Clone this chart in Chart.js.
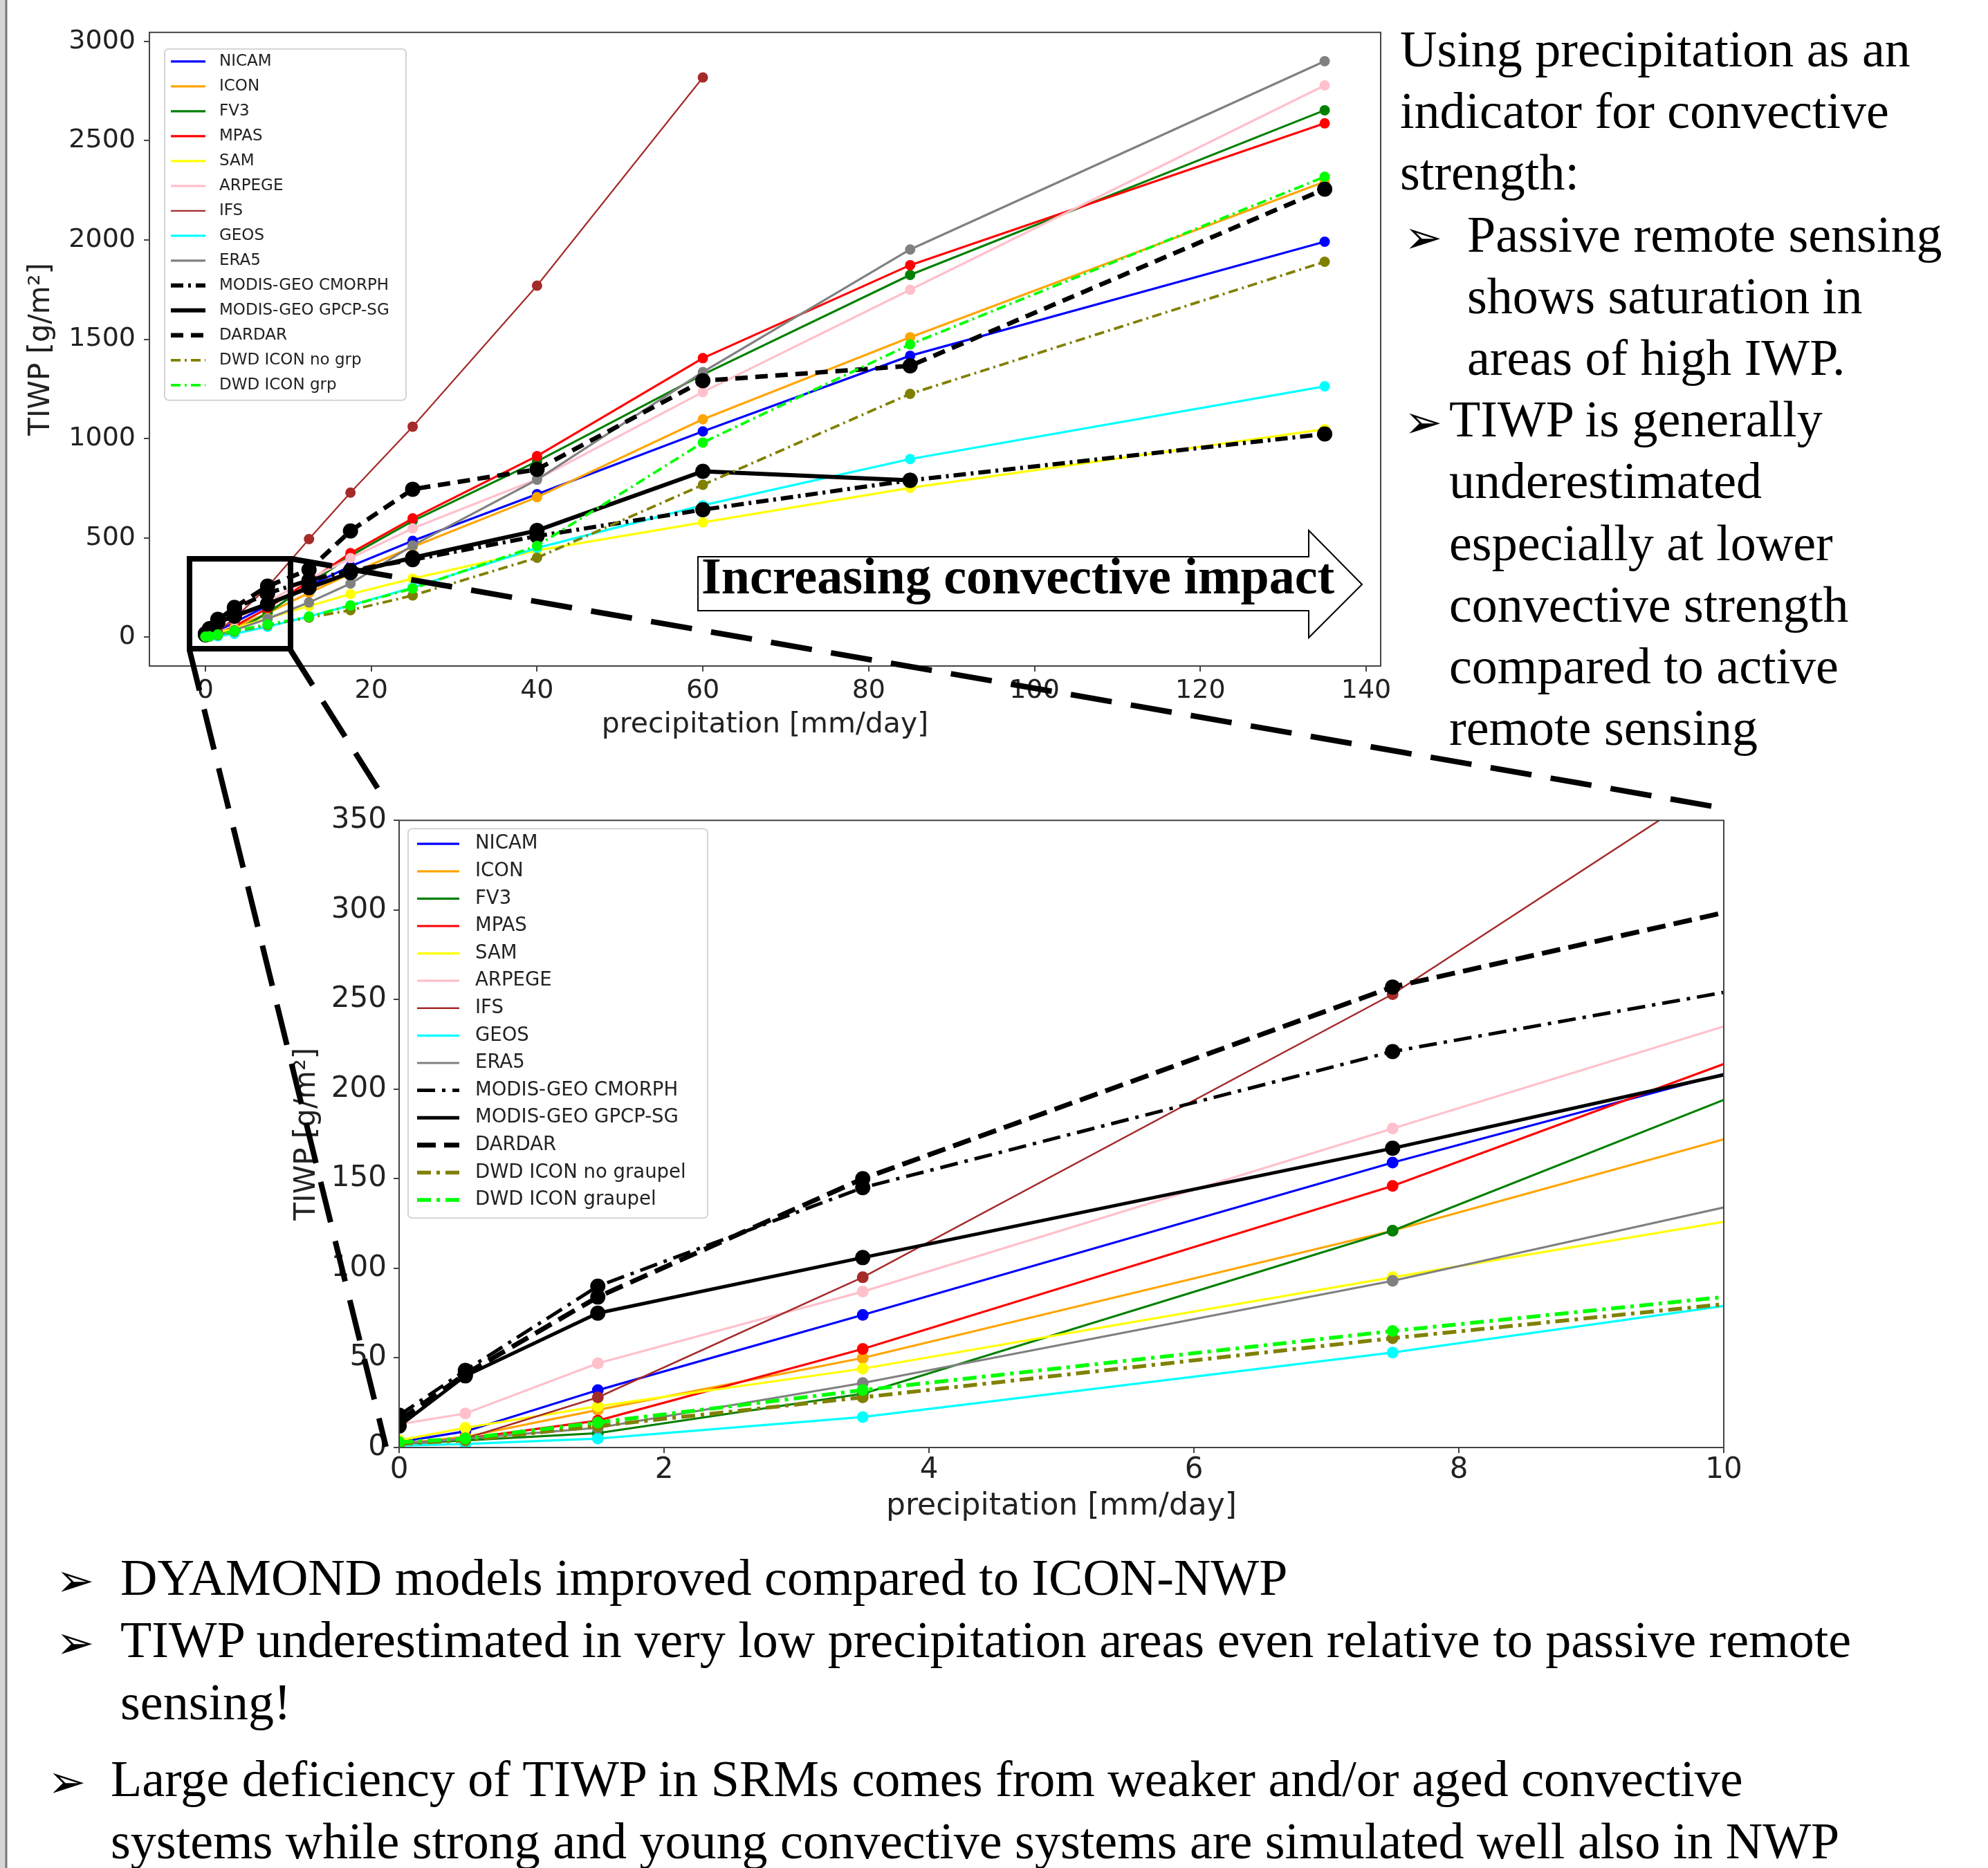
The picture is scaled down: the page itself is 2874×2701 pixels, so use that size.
<!DOCTYPE html>
<html lang="en">
<head>
<meta charset="UTF-8">
<title>TIWP vs precipitation</title>
<script src="https://cdn.jsdelivr.net/npm/chart.js"></script>
<style>
    html, body { margin: 0; padding: 0; background: #fff; }
    body { width: 2874px; height: 2701px; position: relative; overflow: hidden; }
    canvas { position: absolute; }
    #topChart { left: 20px; top: 12px; width: 2016px; height: 1068px; }
    #zoomChart { left: 400px; top: 1151px; width: 2132px; height: 1069px; }
    #overlay { position: absolute; left: 0; top: 0; pointer-events: none; }
    .slide { font-family: "Liberation Serif", "Times New Roman", serif; font-size: 74px; fill: #000; }
    .bul { font-family: "DejaVu Sans", sans-serif; font-size: 66px; fill: #000; }
</style>
</head>
<body>

<canvas id="topChart" width="2016" height="1068"></canvas>
<canvas id="zoomChart" width="2132" height="1069"></canvas>

<svg id="overlay" width="2874" height="2701" xmlns="http://www.w3.org/2000/svg">
    <!-- slide edge -->
    <rect x="0" y="0" width="8" height="2701" fill="#d6d6d6"/>
    <line x1="9" y1="0" x2="9" y2="2701" stroke="#777" stroke-width="3"/>

    <!-- zoom box and connectors -->
    <rect x="274" y="808" width="146" height="130" fill="none" stroke="#000" stroke-width="8"/>
    <g stroke="#000" stroke-width="8" stroke-dasharray="60 28" fill="none">
        <line x1="421" y1="808" x2="2488" y2="1168"/>
        <line x1="420" y1="940" x2="560" y2="1162"/>
        <line x1="274" y1="940" x2="558" y2="2092"/>
    </g>

    <!-- arrow -->
    <polygon points="1009,805 1892,805 1892,767 1969,845 1892,922 1892,883 1009,883"
             fill="#fff" stroke="#000" stroke-width="2"/>
    <text class="slide" x="1014" y="858" font-weight="bold">Increasing convective impact</text>

    <!-- right text -->
    <text class="slide" x="2024" y="96">Using precipitation as an</text>
    <text class="slide" x="2024" y="185">indicator for convective</text>
    <text class="slide" x="2024" y="274">strength:</text>
    <text class="bul" x="2030" y="366">➢</text>
    <text class="slide" x="2121" y="364">Passive remote sensing</text>
    <text class="slide" x="2121" y="453">shows saturation in</text>
    <text class="slide" x="2121" y="542">areas of high IWP.</text>
    <text class="bul" x="2030" y="633">➢</text>
    <text class="slide" x="2095" y="631">TIWP is generally</text>
    <text class="slide" x="2095" y="720">underestimated</text>
    <text class="slide" x="2095" y="810">especially at lower</text>
    <text class="slide" x="2095" y="899">convective strength</text>
    <text class="slide" x="2095" y="988">compared to active</text>
    <text class="slide" x="2095" y="1077">remote sensing</text>

    <!-- bottom text -->
    <text class="bul" x="81" y="2308">➢</text>
    <text class="slide" x="174" y="2306">DYAMOND models improved compared to ICON-NWP</text>
    <text class="bul" x="81" y="2398">➢</text>
    <text class="slide" x="174" y="2396">TIWP underestimated in very low precipitation areas even relative to passive remote</text>
    <text class="slide" x="174" y="2486">sensing!</text>
    <text class="bul" x="69" y="2599">➢</text>
    <text class="slide" x="160" y="2597">Large deficiency of TIWP in SRMs comes from weaker and/or aged convective</text>
    <text class="slide" x="160" y="2687">systems while strong and young convective systems are simulated well also in NWP</text>
</svg>

<script>
    // precipitation bins (mm/day)
    const precipBins = [0, 0.5, 1.5, 3.5, 7.5, 12.5, 17.5, 25, 40, 60, 85, 135];

    // TIWP (g/m2) per bin
    const nicam    = [3, 9, 32, 74, 159, 258, 357, 485, 720, 1036, 1417, 1991];
    const icon     = [2, 6, 21, 50, 121, 223, 320, 455, 705, 1097, 1510, 2293];
    const fv3      = [2, 4, 8, 30, 121, 267, 410, 585, 885, 1322, 1824, 2653];
    const mpas     = [2, 5, 15, 55, 146, 282, 423, 598, 912, 1405, 1873, 2587];
    const sam      = [4, 11, 23, 44, 95, 157, 217, 295, 437, 578, 752, 1047];
    const arpege   = [13, 19, 47, 87, 178, 292, 398, 548, 795, 1234, 1749, 2778];
    const ifs      = [2, 5, 28, 95, 253, 494, 728, 1060, 1770, 2818, null, null];
    const geos     = [1, 2, 5, 17, 53, 105, 160, 250, 449, 664, 897, 1263];
    const era5     = [2, 5, 11, 36, 93, 175, 270, 462, 793, 1335, 1952, 2900];
    const cmorph   = [18, 43, 90, 145, 221, 287, 335, 390, 509, 642, 790, 1023];
    const gpcp     = [12, 40, 75, 106, 167, 249, 325, 400, 537, 835, 790, null];
    const dardar   = [15, 41, 84, 150, 257, 340, 535, 745, 845, 1291, 1366, 2256];
    const dwdNoGrp = [2, 4, 12, 28, 61, 99, 136, 210, 400, 767, 1225, 1890];
    const dwdGrp   = [3, 5, 14, 32, 65, 103, 160, 245, 460, 980, 1474, 2318];

    const seriesValues = [nicam, icon, fv3, mpas, sam, arpege, ifs, geos, era5,
                          cmorph, gpcp, dardar, dwdNoGrp, dwdGrp];
    const seriesNames = ['NICAM', 'ICON', 'FV3', 'MPAS', 'SAM', 'ARPEGE', 'IFS', 'GEOS', 'ERA5',
                         'MODIS-GEO CMORPH', 'MODIS-GEO GPCP-SG', 'DARDAR', 'DWD ICON no grp', 'DWD ICON grp'];
    const zoomNames = ['NICAM', 'ICON', 'FV3', 'MPAS', 'SAM', 'ARPEGE', 'IFS', 'GEOS', 'ERA5',
                       'MODIS-GEO CMORPH', 'MODIS-GEO GPCP-SG', 'DARDAR', 'DWD ICON no graupel', 'DWD ICON graupel'];
    const seriesColors = ['#0000ff', '#ffa500', '#008000', '#ff0000', '#ffff00', '#ffc0cb', '#a52a2a',
                          '#00ffff', '#808080', '#000000', '#000000', '#000000', '#808000', '#00ff00'];
    const seriesKinds = ['model', 'model', 'model', 'model', 'model', 'model', 'ifs', 'model', 'model',
                         'cmorph', 'gpcp', 'dardar', 'dwd', 'dwd'];

    // axis ticks
    const topXTicks = [0, 20, 40, 60, 80, 100, 120, 140];
    const topYTicks = [0, 500, 1000, 1500, 2000, 2500, 3000];
    const zoomXTicks = [0, 2, 4, 6, 8, 10];
    const zoomYTicks = [0, 50, 100, 150, 200, 250, 300, 350];

    const topStyles = {
        model:  { width: 3.2, dash: [],            radius: 7.5 },
        ifs:    { width: 2.2, dash: [],            radius: 7.5 },
        cmorph: { width: 6,   dash: [18, 7, 4, 7], radius: 11 },
        gpcp:   { width: 6,   dash: [],            radius: 11 },
        dardar: { width: 6.5, dash: [18, 11],      radius: 11 },
        dwd:    { width: 3.8, dash: [14, 6, 3, 6], radius: 7.5 }
    };
    const zoomStyles = {
        model:  { width: 3.2, dash: [],              radius: 8.5 },
        ifs:    { width: 2.5, dash: [],              radius: 8.5 },
        cmorph: { width: 5,   dash: [26, 10, 5, 10], radius: 11 },
        gpcp:   { width: 5,   dash: [],              radius: 11 },
        dardar: { width: 7,   dash: [27, 12],        radius: 11 },
        dwd:    { width: 5.5, dash: [20, 8, 5, 8],   radius: 8.5 }
    };

    Chart.defaults.font.family = "'DejaVu Sans', sans-serif";
    Chart.defaults.color = '#222';

    function buildDatasets(styles) {
        const n = seriesNames.length;
        return seriesNames.map(function (name, i) {
            const st = styles[seriesKinds[i]];
            const pts = [];
            precipBins.forEach(function (x, j) {
                const v = seriesValues[i][j];
                if (v !== null) pts.push({ x: x, y: v });
            });
            return {
                label: name,
                data: pts,
                order: n - 1 - i, // later series on top, like matplotlib
                borderColor: seriesColors[i],
                backgroundColor: seriesColors[i],
                borderWidth: st.width,
                borderDash: st.dash,
                pointRadius: st.radius,
                pointHoverRadius: st.radius,
                pointBackgroundColor: seriesColors[i],
                pointBorderWidth: 0,
                tension: 0,
                fill: false
            };
        });
    }

    // box around the plot area
    const framePlugin = {
        id: 'frame',
        afterDatasetsDraw(chart) {
            const a = chart.chartArea, ctx = chart.ctx;
            ctx.save();
            ctx.strokeStyle = '#444';
            ctx.lineWidth = 2;
            ctx.strokeRect(a.left, a.top, a.right - a.left, a.bottom - a.top);
            ctx.restore();
        }
    };

    // matplotlib-like legend inside the axes
    const boxLegend = {
        id: 'boxLegend',
        afterDraw(chart, args, o) {
            const ctx = chart.ctx, a = chart.chartArea;
            const x0 = a.left + o.dx, y0 = a.top + o.dy;
            ctx.save();
            ctx.beginPath();
            ctx.roundRect(x0, y0, o.w, o.h, 6);
            ctx.fillStyle = 'rgba(255,255,255,0.85)';
            ctx.fill();
            ctx.strokeStyle = '#d4d4d4';
            ctx.lineWidth = 2;
            ctx.stroke();
            chart.data.datasets.forEach(function (ds, i) {
                const y = y0 + o.first + i * o.gap;
                ctx.strokeStyle = ds.borderColor;
                ctx.lineWidth = ds.borderWidth;
                ctx.setLineDash(ds.borderDash);
                ctx.beginPath();
                ctx.moveTo(x0 + o.line0, y);
                ctx.lineTo(x0 + o.line1, y);
                ctx.stroke();
                ctx.setLineDash([]);
                ctx.fillStyle = '#222';
                ctx.font = o.font;
                ctx.textBaseline = 'middle';
                ctx.fillText(o.labels[i], x0 + o.textX, y);
            });
            ctx.restore();
        }
    };

    function axis(min, max, ticks, fixed, isX, tickFont, tickPad, titleText, titleFont, titlePad) {
        const ax = {
            type: 'linear',
            min: min,
            max: max,
            afterBuildTicks: function (scale) { scale.ticks = ticks.map(function (v) { return { value: v }; }); },
            grid: { drawOnChartArea: false, drawTicks: true, tickLength: 8, color: '#444', lineWidth: 2 },
            border: { display: false },
            ticks: { autoSkip: false, maxRotation: 0, padding: tickPad, color: '#222',
                     font: { size: tickFont }, callback: function (v) { return String(v); } },
            title: { display: true, text: titleText, color: '#222', font: { size: titleFont }, padding: titlePad }
        };
        if (isX) ax.afterFit = function (scale) { scale.height = fixed; };
        else ax.afterFit = function (scale) { scale.width = fixed; };
        return ax;
    }

    function baseOptions(scales, legendOpts) {
        return {
            responsive: false,
            animation: false,
            events: [],
            layout: { padding: { top: 30, right: 40, left: 0, bottom: 0 } },
            plugins: { legend: { display: false }, tooltip: { enabled: false }, boxLegend: legendOpts },
            scales: scales
        };
    }

    // overview panel
    new Chart(document.getElementById('topChart'), {
        type: 'line',
        data: { datasets: buildDatasets(topStyles) },
        options: baseOptions({
            x: axis(-6.75, 141.75, topXTicks, 117, true, 38, 5, 'precipitation [mm/day]', 41, { top: 4, bottom: 7 }),
            y: axis(-145, 3045, topYTicks, 196, false, 38, 12, 'TIWP [g/m²]', 42, { top: 15, bottom: 4 })
        }, {
            dx: 22, dy: 24, w: 349, h: 508, first: 18, gap: 36,
            line0: 9, line1: 59, textX: 79, font: "23px 'DejaVu Sans'", labels: seriesNames
        }),
        plugins: [framePlugin, boxLegend]
    });

    // zoomed panel, 0-10 mm/day
    new Chart(document.getElementById('zoomChart'), {
        type: 'line',
        data: { datasets: buildDatasets(zoomStyles) },
        options: baseOptions({
            x: axis(0, 10, zoomXTicks, 127, true, 42, 0, 'precipitation [mm/day]', 44, { top: 4, bottom: 15 }),
            y: axis(0, 350, zoomYTicks, 177, false, 42, 10, 'TIWP [g/m²]', 42, { top: 19, bottom: 4 })
        }, {
            dx: 13, dy: 12, w: 433, h: 563, first: 22, gap: 39.6,
            line0: 13, line1: 74, textX: 97, font: "27.5px 'DejaVu Sans'", labels: zoomNames
        }),
        plugins: [framePlugin, boxLegend]
    });
</script>

</body>
</html>
